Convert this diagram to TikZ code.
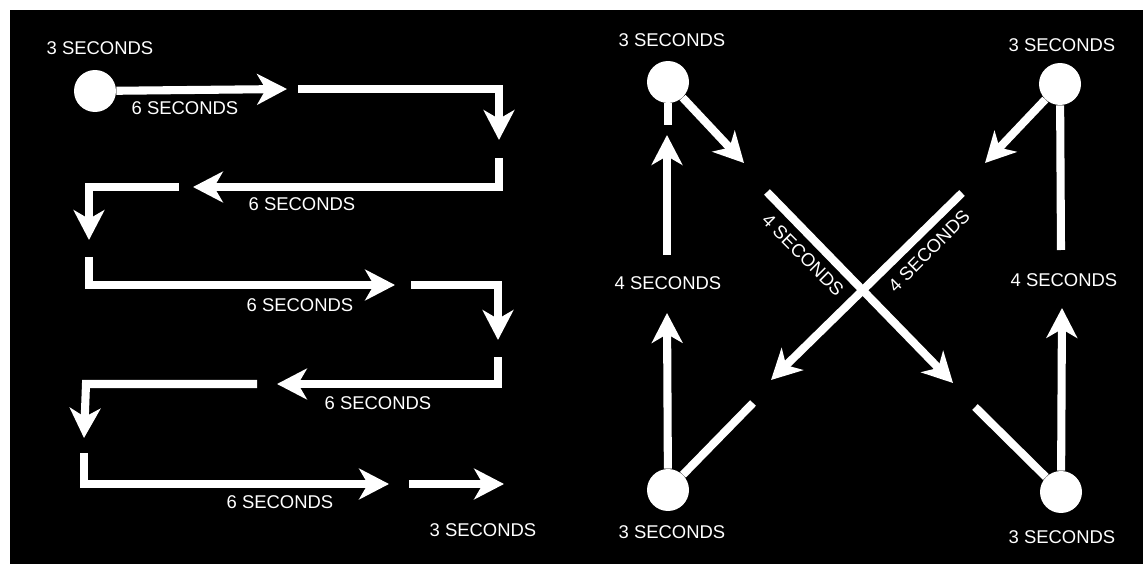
\documentclass[tikz,border=0pt]{standalone}
\usepackage{fontspec}
\setmainfont{Liberation Sans}
\usetikzlibrary{arrows.meta}

\begin{document}
\begin{tikzpicture}[x=0.02cm, y=-0.02cm,
  route/.style={white, line width=4.6pt},
  arr/.style={route, -{Stealth[length=17pt, width=17.5pt, inset=5pt]}},
  lbl/.style={white, font=\fontsize{10.5}{12}\selectfont},
  dot/.style={circle, fill=white, minimum size=0.84cm, inner sep=0pt}]
  \useasboundingbox (0,0) rectangle (1143,564);
  \fill[black] (10,10) rectangle (1143,564);

  % left: back and forth
  \node[dot] (start) at (95,91) {};
  \node[lbl] (t0) at (100,48) {3 SECONDS};
  \draw[arr] (start) -- (287,89);
  \draw[arr] (298,89) -- (499,89) -- (499,140);
  \draw[arr] (499,158) -- (499,187) -- (193,187);
  \draw[arr] (179,187) -- (89,187) -- (89,240);
  \draw[arr] (89,257) -- (89,285) -- (395,285);
  \draw[arr] (411,285) -- (498,285) -- (498,340);
  \draw[arr] (498,357) -- (498,384) -- (277,384);
  \draw[arr] (257,384) -- (86,384) -- (84,438);
  \draw[arr] (84,453) -- (84,484) -- (389,484);
  \draw[arr] (409,484) -- (504,484);
  \node[lbl] (t1) at (185,108) {6 SECONDS};
  \node[lbl] (t2) at (302,204) {6 SECONDS};
  \node[lbl] (t3) at (300,305) {6 SECONDS};
  \node[lbl] (t4) at (378,403) {6 SECONDS};
  \node[lbl] (t5) at (280,502) {6 SECONDS};
  \node[lbl] (t6) at (483,530) {3 SECONDS};

  % right: crossing
  \node[dot] (tl) at (668,82) {};
  \node[dot] (tr) at (1060,84) {};
  \node[dot] (bl) at (668,490) {};
  \node[dot] (br) at (1061,492) {};
  \node[lbl] (ttl) at (672,40) {3 SECONDS};
  \node[lbl] (ttr) at (1062,45) {3 SECONDS};
  \node[lbl] (tbl) at (672,532) {3 SECONDS};
  \node[lbl] (tbr) at (1062,537) {3 SECONDS};
  \node[lbl] (tml) at (668,283) {4 SECONDS};
  \node[lbl] (tmr) at (1064,280) {4 SECONDS};

  \draw[route] (tl) -- (668,125);
  \draw[arr] (tl) -- (744,163);
  \draw[arr] (667,255) -- (667,135);
  \draw[arr] (bl) -- (667,313);
  \draw[route] (bl) -- (753,403);

  \draw[route] (tr) -- (1061,250);
  \draw[arr] (tr) -- (985,163);
  \draw[arr] (br) -- (1062,308);
  \draw[route] (975,407) -- (br);

  \draw[arr] (767,192) -- (953,383);
  \draw[arr] (962,193) -- (771,380);
  \node[lbl, rotate=-45] (tx1) at (803,255) {4 SECONDS};
  \node[lbl, rotate=45] (tx2) at (929,251) {4 SECONDS};
\end{tikzpicture}
\end{document}
